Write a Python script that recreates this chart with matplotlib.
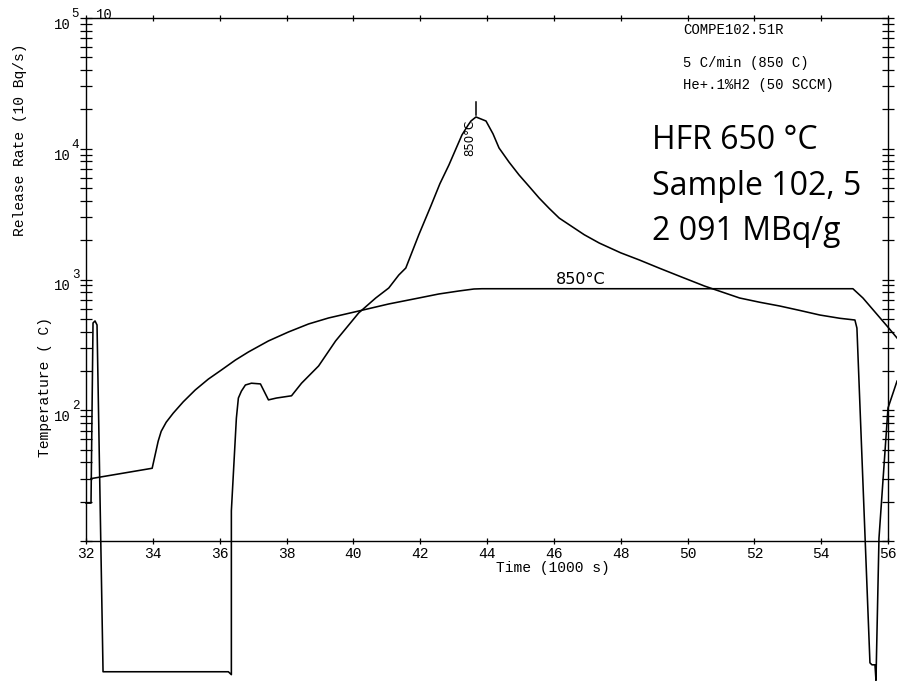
import matplotlib
matplotlib.use("Agg")
import matplotlib.pyplot as plt
from matplotlib.ticker import LogLocator, NullFormatter
from matplotlib.transforms import offset_copy

# Furnace temperature (C) versus time (1000 s)
temp_time = [32.15, 33.98, 34.16, 34.25, 34.40, 34.61, 34.91, 35.27, 35.66,
             36.05, 36.47, 36.86, 37.46, 38.06, 38.66, 39.26, 40.16, 41.06,
             41.96, 42.56, 43.16, 43.61, 43.85, 54.95, 55.25, 55.97, 56.27]
temp_value = [30, 36, 58, 69, 81, 95, 116, 143, 173,
              203, 242, 279, 339, 397, 457, 508, 574, 650,
              722, 775, 817, 846, 850, 850, 722, 441, 357]

# Release rate (10 Bq/s) versus time (1000 s)
rel_time = [32.00, 32.15, 32.21, 32.27, 32.33, 32.51, 32.60, 36.26, 36.35,
            36.35, 36.50, 36.56, 36.65, 36.77, 36.95, 37.22, 37.46, 37.70,
            38.15, 38.45, 38.96, 39.47, 40.16, 40.67, 41.06, 41.36, 41.57,
            41.96, 42.32, 42.59, 42.86, 43.10, 43.25, 43.43, 43.52, 43.67,
            43.97, 44.18, 44.36, 44.66, 44.96, 45.26, 45.56, 45.86, 46.16,
            46.91, 47.36, 48.00, 48.56, 49.16, 49.76, 50.51, 51.56, 52.16,
            52.76, 53.36, 53.96, 54.56, 55.01, 55.07, 55.46, 55.52, 55.61,
            55.64, 55.73, 56.00, 56.27]
rel_value = [19.5, 19.5, 465, 482, 449, 1.0, 1.0, 1.0, 0.95,
             17, 87, 124, 140, 156, 161, 159, 120, 124,
             129, 161, 218, 339, 555, 722, 861, 1082, 1224,
             2200, 3650, 5400, 7510, 10400, 12740, 15100, 16300, 17500,
             16300, 13000, 10140, 7900, 6300, 5150, 4200, 3500, 2950,
             2200, 1900, 1600, 1410, 1220, 1060, 891, 722, 670,
             627, 580, 535, 505, 490, 425, 1.17, 1.13, 1.13,
             0.86, 10.5, 104, 167]

x_ticks = list(range(32, 57, 2))
y_decades = [2, 3, 4, 5]
peak_temp = 850

W, H = 897, 682
MONO = 'Liberation Mono'
plt.rcParams['font.family'] = [MONO, 'DejaVu Sans Mono']
fig = plt.figure(figsize=(W / 100, H / 100), dpi=100)
ax = fig.add_axes([86 / W, 1 - 541 / H, (888 - 86) / W, (541 - 18) / H])
ax.set_yscale('log')
ax.set_xlim(32, 56)
ax.set_ylim(10, 1e5)

for s in ax.spines.values():
    s.set_linewidth(1.0)

ax.set_xticks(x_ticks)
ax.set_xticklabels([str(v) for v in x_ticks])
ax.tick_params(axis='x', which='major', direction='inout', length=4,
               width=0.9, top=True, labelsize=10.5, pad=2)
ax.yaxis.set_major_locator(LogLocator(base=10))
ax.yaxis.set_minor_locator(LogLocator(base=10, subs=range(2, 10)))
ax.yaxis.set_minor_formatter(NullFormatter())
ax.tick_params(axis='y', which='both', direction='inout', length=8,
               width=0.9, right=True, labelleft=False)

# decade labels on the left axis
ytr = ax.get_yaxis_transform()
for d in y_decades:
    ax.text(-0.019, 10 ** d, "10", ha='right', va='center', fontsize=10,
            transform=offset_copy(ytr, fig=fig, x=0, y=-7, units='dots'))
    ax.text(-0.019, 10 ** d, str(d), ha='left', va='center', fontsize=9,
            transform=offset_copy(ytr, fig=fig, x=1, y=4, units='dots'))

ax.plot(temp_time, temp_value, color='black', lw=1.15, clip_on=False)
ax.plot(rel_time, rel_value, color='black', lw=1.15, clip_on=False)

# peak marker and annotation
i_pk = rel_value.index(max(rel_value))
t_pk, v_pk = rel_time[i_pk], rel_value[i_pk]
ax.plot([t_pk, t_pk], [v_pk * 10 ** 0.015, v_pk * 10 ** 0.115],
        color='black', lw=1.1, clip_on=False)
ax.text(t_pk - 0.2, v_pk / 10 ** 0.16, f"{peak_temp}°C", rotation=90,
        ha='center', va='center', fontsize=8.5, family='DejaVu Sans')
ax.text(46.8, peak_temp * 1.03, f"{peak_temp}°C", ha='center', va='bottom',
        fontsize=11.5, family='DejaVu Sans')

# axis titles
fig.text(20 / W, 1 - 140 / H, "Release Rate (10 Bq/s)", rotation=90,
         ha='center', va='center', fontsize=10.5)
fig.text(45 / W, 1 - 387 / H, "Temperature ( C)", rotation=90,
         ha='center', va='center', fontsize=10.5)
fig.text(553 / W, 1 - 568 / H, "Time (1000 s)", ha='center', va='center',
         fontsize=10.5)
fig.text(104 / W, 1 - 15 / H, "10", ha='center', va='center', fontsize=10)

# run information
fig.text(683 / W, 1 - 30 / H, "COMPE102.51R", ha='left', va='center', fontsize=10)
fig.text(683 / W, 1 - 63 / H, "5 C/min (850 C)", ha='left', va='center', fontsize=10)
fig.text(683 / W, 1 - 85 / H, "He+.1%H2 (50 SCCM)", ha='left', va='center', fontsize=10)

for txt, yb in [("HFR 650 °C", 149), ("Sample 102, 5", 195), ("2 091 MBq/g", 240)]:
    fig.text(652 / W, 1 - yb / H, txt, ha='left', va='baseline', fontsize=23,
             family='Open Sans')

fig.savefig("out.png", dpi=100)
